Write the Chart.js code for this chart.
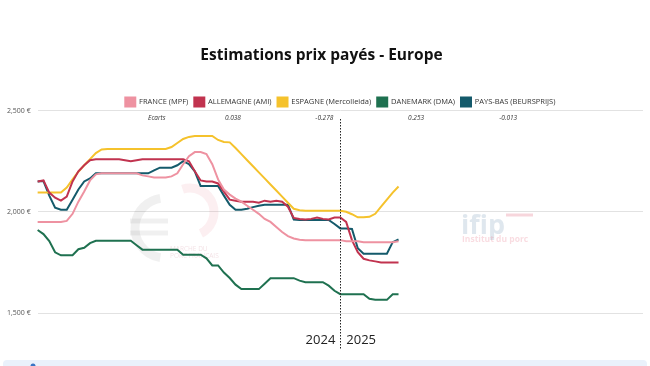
<!DOCTYPE html>
<html>
<head>
<meta charset="utf-8">
<script src="https://cdn.jsdelivr.net/npm/chart.js@4"></script>
<style>
  html, body { margin: 0; padding: 0; background: #ffffff; }
  #wrap { width: 650px; height: 366px; position: relative; }
</style>
</head>
<body>
<div id="wrap"><canvas id="c" width="650" height="366"></canvas></div>
<script>
// ---- Data (weekly prices, €/t) ----
const weeks2024 = 52;
const weeks2025 = 53;
const yearLabels = ['2024', '2025'];

const seriesNames = ['FRANCE (MPF)', 'ALLEMAGNE (AMI)', 'ESPAGNE (Mercolleida)', 'DANEMARK (DMA)', 'PAYS-BAS (BEURSPRIJS)'];
const ecartsLabels = ['Ecarts', '0.038', '-0.278', '0.253', '-0.013'];

const france = [1950,1950,1950,1950,1950,1955,1990,2050,2100,2155,2185,
  2190,2190,2190,2190,2190,2190,2190,2180,2175,2170,2170,2170,2175,
  2190,2235,2275,2295,2295,2285,2235,2160,2110,2085,2065,2050,2030,2010,1990,1965,1950,1925,1900,1880,1868,
  1862,1860,1860,1860,1860,1860,1860,1860,1855,1855,1855,1850,1850,1850,1850,1850,1850,1855];

const allemagne = [2150,2155,2095,2070,2055,2075,2150,2200,2230,2255,
  2260,2260,2260,2260,2260,2255,2250,2255,2260,2260,2260,2260,2260,2260,2260,2260,
  2250,2200,2155,2150,2150,2140,2100,2060,2055,2050,2050,2050,2045,2055,2050,2055,2050,2025,1970,
  1965,1962,1965,1972,1965,1962,1972,1972,1950,1860,1800,1768,1760,1755,1750,1750,1750,1750];

const espagne = [2095,2095,2095,2095,2095,2120,2160,2198,2230,2260,2290,2308,
  2310,2310,2310,2310,2310,2310,2310,2310,2310,2310,2310,2320,2340,2360,2370,2375,2375,2375,2375,
  2355,2345,2343,2315,2285,2255,2225,2195,2165,2135,2105,2075,2045,2015,2008,
  2005,2005,2005,2005,2005,2005,2005,2000,1988,1973,1973,1975,1990,2025,2060,2095,2125];

const danemark = [1910,1890,1855,1800,1785,1785,1785,1815,1822,1845,
  1857,1857,1857,1857,1857,1857,1857,1835,1813,1813,1813,1813,1813,1813,1813,
  1788,1788,1788,1788,1770,1735,1735,1700,1673,1640,1618,1618,1618,1618,1645,
  1672,1672,1672,1672,1672,1660,1652,1652,1652,1652,1635,1610,
  1593,1593,1593,1593,1593,1570,1565,1565,1565,1593,1593];

const paysBas = [2150,2152,2080,2020,2010,2010,2060,2110,2150,2165,
  2190,2190,2190,2190,2190,2190,2190,2190,2190,2190,2205,2218,2218,2218,2230,2250,2235,2200,
  2127,2127,2127,2127,2080,2035,2010,2010,2015,2023,2030,2035,2035,2035,2035,2035,1962,
  1960,1960,1960,1960,1960,1960,1940,1918,1918,1915,1820,1793,1793,1793,1793,1793,1850,1863];

const colors = ['#ee92a1', '#c1334f', '#f5c22c', '#1f7150', '#145a6b'];

// ---- labels (weeks) ----
const labels = [];
for (let w = 1; w <= weeks2024; w++) labels.push('S' + w + ' 2024');
for (let w = 1; w <= weeks2025; w++) labels.push('S' + w + ' 2025');
const dividerLabel = 'S1 2025';

const seriesData = [france, allemagne, espagne, danemark, paysBas];
const datasets = seriesNames.map((n, i) => ({
  label: n,
  data: seriesData[i],
  borderColor: colors[i],
  backgroundColor: colors[i],
  borderWidth: 2,
  pointRadius: 0,
  pointHoverRadius: 0,
  tension: 0,
  fill: false
}));

const FONT = "'Open Sans', 'Noto Sans', sans-serif";

const decorPlugin = {
  id: 'decor',
  beforeDraw(chart) {
    const ctx = chart.ctx;
    ctx.save();
    ctx.fillStyle = '#eaf1fb';
    ctx.beginPath();
    ctx.roundRect(3, 360, 644, 10, 4);
    ctx.fill();
    ctx.fillStyle = '#3a74c4';
    ctx.beginPath();
    ctx.arc(33, 366, 2.5, 0, Math.PI * 2);
    ctx.fill();
    ctx.restore();
  },
  beforeDatasetsDraw(chart) {
    const ctx = chart.ctx;
    ctx.save();
    // euro watermark
    ctx.strokeStyle = 'rgba(0,0,0,0.06)';
    ctx.lineWidth = 9;
    ctx.beginPath();
    ctx.arc(165, 228, 30, Math.PI * 0.55, Math.PI * 1.45);
    ctx.stroke();
    ctx.lineWidth = 5;
    ctx.beginPath();
    ctx.moveTo(130, 221); ctx.lineTo(168, 221);
    ctx.moveTo(130, 233); ctx.lineTo(168, 233);
    ctx.stroke();
    ctx.strokeStyle = 'rgba(230,100,120,0.1)';
    ctx.lineWidth = 9;
    ctx.beginPath();
    ctx.arc(190, 212, 24, -Math.PI * 0.6, Math.PI * 0.35);
    ctx.stroke();
    ctx.fillStyle = 'rgba(200,120,135,0.22)';
    ctx.font = '6.5px ' + FONT;
    ctx.textAlign = 'left';
    ctx.fillText('MARCHE DU', 170, 249);
    ctx.fillText('PORC FRANÇAIS', 170, 256);
    // ifip watermark
    ctx.fillStyle = 'rgba(150,175,200,0.3)';
    ctx.font = 'bold 27px ' + FONT;
    ctx.fillText('ifip', 461, 226);
    ctx.strokeStyle = 'rgba(230,120,140,0.3)';
    ctx.lineWidth = 3;
    ctx.beginPath();
    ctx.moveTo(506, 215); ctx.lineTo(533, 215);
    ctx.stroke();
    ctx.fillStyle = 'rgba(230,120,140,0.26)';
    ctx.font = 'bold 8.5px ' + FONT;
    ctx.fillText('Institut du porc', 462, 240);
    ctx.restore();
  },
  afterDatasetsDraw(chart) {
    const ctx = chart.ctx;
    const x = chart.scales.x.getPixelForValue(labels.indexOf(dividerLabel));
    ctx.save();
    ctx.strokeStyle = '#222';
    ctx.lineWidth = 1;
    ctx.setLineDash([1.5, 1.5]);
    ctx.beginPath();
    ctx.moveTo(Math.round(x) + 0.5, 119);
    ctx.lineTo(Math.round(x) + 0.5, 349);
    ctx.stroke();
    ctx.setLineDash([]);
    ctx.fillStyle = '#222';
    ctx.font = '13px ' + FONT;
    ctx.textBaseline = 'middle';
    ctx.textAlign = 'right';
    ctx.fillText(yearLabels[0], x - 5, 340);
    ctx.textAlign = 'left';
    ctx.fillText(yearLabels[1], x + 6, 340);
    // Ecarts row under legend items
    const boxes = chart.legend.legendHitBoxes || [];
    ctx.font = 'italic 6.5px ' + FONT;
    ctx.textAlign = 'center';
    ctx.fillStyle = '#333';
    boxes.forEach((b, i) => {
      if (ecartsLabels[i] !== undefined) ctx.fillText(ecartsLabels[i], b.left + b.width / 2, 118);
    });
    ctx.restore();
  }
};

new Chart(document.getElementById('c'), {
  type: 'line',
  data: { labels, datasets },
  options: {
    responsive: false,
    animation: false,
    events: [],
    layout: { padding: { left: 0, right: 7, top: 0, bottom: 53 } },
    plugins: {
      title: {
        display: true,
        text: 'Estimations prix payés - Europe',
        color: '#111',
        font: { family: FONT, size: 15.5, weight: 'bold' },
        padding: { top: 46, bottom: 27 }
      },
      legend: {
        display: true,
        fullSize: false,
        maxHeight: 19,
        labels: {
          boxWidth: 10,
          boxHeight: 9,
          padding: 6,
          color: '#333',
          font: { family: FONT, size: 7.5 }
        }
      },
      tooltip: { enabled: false }
    },
    scales: {
      x: { display: false },
      y: {
        min: 1500,
        max: 2500,
        ticks: {
          stepSize: 500,
          padding: 7,
          color: '#555',
          font: { family: FONT, size: 7 },
          callback: (v) => v.toLocaleString('en-US') + ' €'
        },
        grid: { color: '#e2e2e2', drawTicks: false },
        border: { display: false }
      }
    }
  },
  plugins: [decorPlugin]
});
</script>
</body>
</html>
